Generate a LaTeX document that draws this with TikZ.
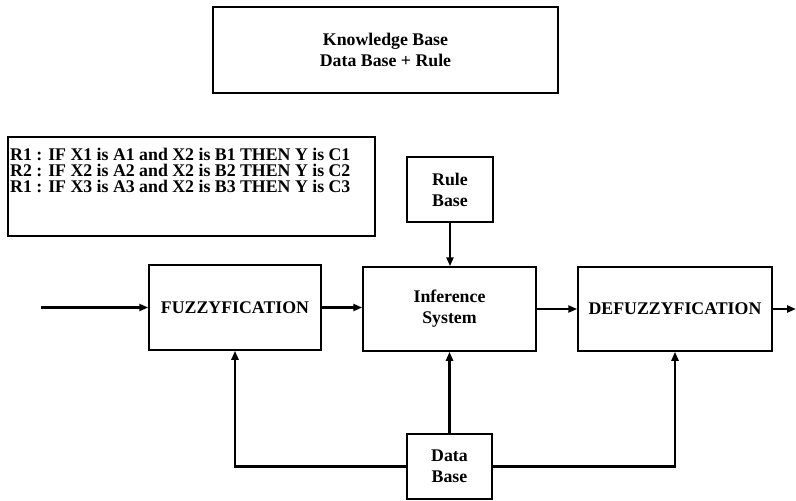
\documentclass[tikz,border=0pt]{standalone}
\usepackage{fontspec}
\setmainfont{Liberation Serif}
\usetikzlibrary{arrows.meta}
\begin{document}
\begin{tikzpicture}[x=1pt,y=-1pt,
  txt/.style={font=\fontsize{17.8}{21}\selectfont\bfseries},
  box/.style={draw, line width=1.5pt, inner sep=0pt, align=center, txt},
  ruletxt/.style={anchor=base west, inner sep=0pt, txt},
  arr/.style={line width=2.2pt, -{Triangle[length=9pt,width=7pt]}}]
\useasboundingbox (0,0) rectangle (796,501);
\fill[white] (0,0) rectangle (796,501);
% Knowledge base
\node[box, minimum width=345pt, minimum height=86pt] (kb) at (385.5,50) {Knowledge Base\\Data Base + Rule};
% Rules
\node[box, minimum width=367pt, minimum height=99pt] (rbox) at (191.5,186.5) {};
\node[ruletxt] (r1) at (10,160) {R1 : IF X1 is A1 and X2 is B1 THEN Y is C1};
\node[ruletxt] (r2) at (10,176.3) {R2 : IF X2 is A2 and X2 is B2 THEN Y is C2};
\node[ruletxt] (r3) at (10,192.6) {R1 : IF X3 is A3 and X2 is B3 THEN Y is C3};
% blocks
\node[box, minimum width=86pt, minimum height=65pt] (rb) at (450,189.5) {Rule\\Base};
\node[box, minimum width=172pt, minimum height=85pt] (fuzz) at (235,307.5) {FUZZYFICATION};
\node[box, minimum width=173pt, minimum height=84pt] (inf) at (449.5,309) {Inference\\System};
\node[box, minimum width=194pt, minimum height=84pt] (defuzz) at (675,309) {DEFUZZYFICATION};
\node[box, minimum width=85pt, minimum height=65pt] (db) at (449.5,466.5) {Data\\Base};
% connectors
\coordinate (in) at (41,307.5);
\coordinate (out) at (796,309);
\draw[arr] (in) -- (fuzz.west);
\draw[arr] (fuzz.east) -- (fuzz.east -| inf.west);
\draw[arr] (inf.east) -- (defuzz.west);
\draw[arr] (defuzz.east) -- (out);
\draw[arr] (rb.south) -- (rb.south |- inf.north);
\draw[arr] (db.north) -- (inf.south);
\draw[arr] (db.west) -| (fuzz.south);
\draw[arr] (db.east) -| (defuzz.south);
\end{tikzpicture}
\end{document}
